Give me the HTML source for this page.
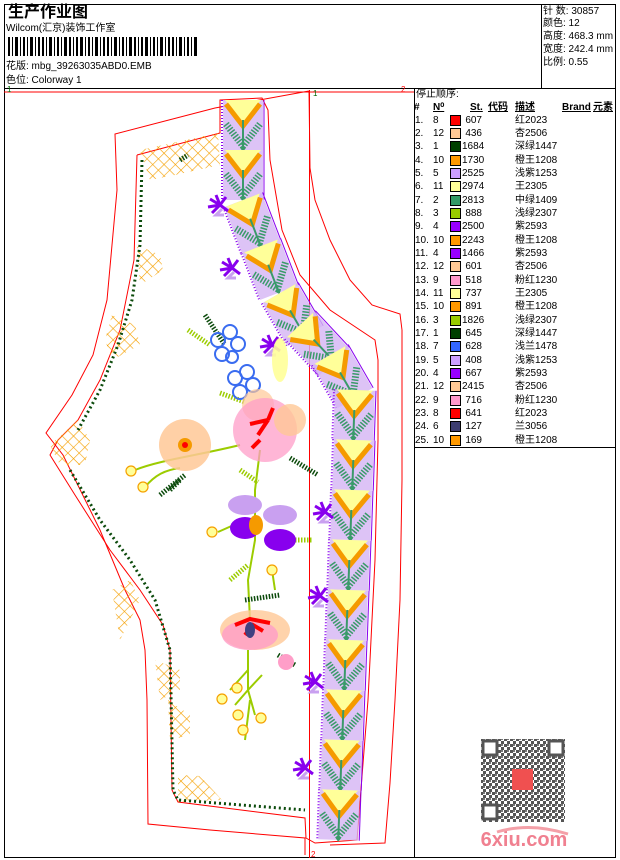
<!DOCTYPE html>
<html><head><meta charset="utf-8">
<style>
html,body{margin:0;padding:0;background:#fff;}
body{width:620px;height:860px;position:relative;overflow:hidden;font-family:"Liberation Sans","Noto Sans CJK SC",sans-serif;color:#000;}
.t{position:absolute;white-space:nowrap;font-size:10px;line-height:12px;}
</style></head><body>
<svg width="620" height="860" style="position:absolute;left:0;top:0" xmlns="http://www.w3.org/2000/svg">
<defs>
<pattern id="lat" width="8" height="8" patternUnits="userSpaceOnUse" patternTransform="rotate(45)">
<path d="M0 0H8M0 0V8" stroke="#f5a000" stroke-width="1.2"/></pattern>
<pattern id="qr" width="6" height="6" patternUnits="userSpaceOnUse">
<rect width="3" height="3" fill="#555"/><rect x="3" y="3" width="3" height="3" fill="#555"/><rect x="3" y="0" width="2" height="2" fill="#777"/></pattern>
<g id="u">
<rect x="-20" y="0" width="40" height="50" fill="#d4b4f4" opacity="0.8"/>
<polygon points="-18,0 18,0 0,22" fill="#ffff99"/>
<polyline points="-17,4 0,26 17,4" fill="none" stroke="#f59a00" stroke-width="5"/>
<polyline points="-17,24 0,46 17,24" fill="none" stroke="#3a9a6a" stroke-width="7" stroke-dasharray="1.5 1.5"/>
<line x1="0" y1="20" x2="0" y2="48" stroke="#3a9a6a" stroke-width="2"/>
<line x1="-21" y1="0" x2="-21" y2="50" stroke="#8800ee" stroke-width="2" stroke-dasharray="1 2"/>
<line x1="21" y1="0" x2="21" y2="50" stroke="#8800ee" stroke-width="1"/>
</g>
<g id="br"><path d="M0 0 l-10 -6 M0 0 l-12 2 M0 0 l-8 8 M0 0 l-4 -10 M0 0 l6 -8 M0 0 l8 6" stroke="#8800ee" stroke-width="3"/><path d="M2 4 l-6 6 l8 0" stroke="#c9a0f0" stroke-width="3" fill="none"/></g>
<g id="yc"><circle r="5" fill="#ffff99" stroke="#f5a000" stroke-width="1.2"/></g>
</defs>
<!-- frame -->
<rect x="4.5" y="4.5" width="611" height="853" fill="none" stroke="#000"/>
<line x1="4" y1="88.5" x2="616" y2="88.5" stroke="#000"/>
<line x1="541.5" y1="4" x2="541.5" y2="88" stroke="#000"/>
<line x1="414.5" y1="88" x2="414.5" y2="858" stroke="#000"/>
<line x1="414" y1="447.5" x2="616" y2="447.5" stroke="#000"/>
<!-- barcode -->
<g fill="#000">
<rect x="8" y="37" width="2" height="19"/><rect x="12" y="37" width="1" height="19"/><rect x="15" y="37" width="3" height="19"/><rect x="20" y="37" width="1" height="19"/><rect x="23" y="37" width="2" height="19"/><rect x="27" y="37" width="1" height="19"/><rect x="30" y="37" width="3" height="19"/><rect x="35" y="37" width="1" height="19"/><rect x="38" y="37" width="2" height="19"/><rect x="42" y="37" width="2" height="19"/><rect x="46" y="37" width="1" height="19"/><rect x="49" y="37" width="3" height="19"/><rect x="54" y="37" width="1" height="19"/><rect x="57" y="37" width="2" height="19"/><rect x="61" y="37" width="1" height="19"/><rect x="64" y="37" width="3" height="19"/><rect x="69" y="37" width="2" height="19"/><rect x="73" y="37" width="1" height="19"/><rect x="76" y="37" width="2" height="19"/><rect x="80" y="37" width="3" height="19"/><rect x="85" y="37" width="1" height="19"/><rect x="88" y="37" width="2" height="19"/><rect x="92" y="37" width="1" height="19"/><rect x="95" y="37" width="3" height="19"/><rect x="100" y="37" width="1" height="19"/><rect x="103" y="37" width="2" height="19"/><rect x="107" y="37" width="2" height="19"/><rect x="111" y="37" width="1" height="19"/><rect x="114" y="37" width="3" height="19"/><rect x="119" y="37" width="1" height="19"/><rect x="122" y="37" width="2" height="19"/><rect x="126" y="37" width="1" height="19"/><rect x="129" y="37" width="3" height="19"/><rect x="134" y="37" width="2" height="19"/><rect x="138" y="37" width="1" height="19"/><rect x="141" y="37" width="2" height="19"/><rect x="145" y="37" width="3" height="19"/><rect x="150" y="37" width="1" height="19"/><rect x="153" y="37" width="2" height="19"/><rect x="157" y="37" width="1" height="19"/><rect x="160" y="37" width="3" height="19"/><rect x="165" y="37" width="1" height="19"/><rect x="168" y="37" width="2" height="19"/><rect x="172" y="37" width="2" height="19"/><rect x="176" y="37" width="1" height="19"/><rect x="179" y="37" width="3" height="19"/><rect x="184" y="37" width="1" height="19"/><rect x="187" y="37" width="2" height="19"/><rect x="191" y="37" width="1" height="19"/><rect x="194" y="37" width="3" height="19"/>
</g>
<!-- red guide lines -->
<line x1="4" y1="92" x2="414" y2="92" stroke="#f00"/>
<line x1="309.5" y1="90" x2="309.5" y2="858" stroke="#f00"/>
<text x="7" y="92" font-size="8" fill="#060">1</text>
<text x="313" y="96" font-size="8" fill="#060">1</text>
<text x="401" y="92" font-size="8" fill="#f00">2</text>
<text x="311" y="857" font-size="8" fill="#f00">2</text>
<!-- outer outlines -->
<polyline points="309,91 215,108 115,134 117,190 107,300 93,355 72,395 46,433 63,455 100,530 125,590 140,620 145,650 147,700 148,824 210,830 305,838 305,855" fill="none" stroke="#f00"/>
<polyline points="309,91 310,168 315,200 330,240 350,280 372,305 400,314 402,330 402,480 400,600 395,700 390,783 385,843 330,845" fill="none" stroke="#f00"/>
<polyline points="137,155 220,133 220,100 262,98 268,110 270,160 282,230 300,275 330,310 375,340 378,360 378,440 375,560 368,700 357,840 315,843 306,838 305,818 178,802 172,790 170,650 163,625 140,590 110,550 75,495 50,455 58,440 78,420 100,380 120,330 134,260 137,155" fill="none" stroke="#f00"/>
<!-- lattice patches -->
<g fill="url(#lat)">
<polygon points="140,150 218,133 220,165 175,175 150,180"/>
<polygon points="137,245 160,255 163,270 140,285"/>
<polygon points="112,315 135,325 140,345 112,360 105,340"/>
<polygon points="50,445 78,420 90,440 85,465 60,465"/>
<polygon points="112,590 130,580 140,600 120,640"/>
<polygon points="155,660 180,670 180,690 160,700"/>
<polygon points="168,700 190,715 190,735 170,740"/>
<polygon points="178,775 200,776 222,800 178,802"/>
</g>
<!-- dark green edge stitch -->
<polyline points="142,160 140,245 132,300 118,345 100,390 78,430" fill="none" stroke="#0b4a0b" stroke-width="3" stroke-dasharray="2 3"/>
<polyline points="70,470 100,520 130,560 155,600 170,650 173,790 178,800 305,810" fill="none" stroke="#0b4a0b" stroke-width="3" stroke-dasharray="2 3"/>
<!-- band -->
<g>
<use href="#u" transform="translate(243,100)"/>
<use href="#u" transform="translate(243,150)"/>
<use href="#u" transform="translate(243,200) rotate(-21)"/>
<use href="#u" transform="translate(261,246) rotate(-21)"/>
<use href="#u" transform="translate(280,293) rotate(-30)"/>
<use href="#u" transform="translate(300,325) rotate(-43)"/>
<use href="#u" transform="translate(330,355) rotate(-30)"/>
<use href="#u" transform="translate(355,390) rotate(2)"/>
<use href="#u" transform="translate(354,440) rotate(2)"/>
<use href="#u" transform="translate(352,490) rotate(2)"/>
<use href="#u" transform="translate(350,540) rotate(2)"/>
<use href="#u" transform="translate(348,590) rotate(2)"/>
<use href="#u" transform="translate(346,640) rotate(2)"/>
<use href="#u" transform="translate(344,690) rotate(2)"/>
<use href="#u" transform="translate(342,740) rotate(2)"/>
<use href="#u" transform="translate(340,790) rotate(2)"/>
</g>
<!-- purple brushes -->
<use href="#br" transform="translate(220,205)"/>
<use href="#br" transform="translate(232,268)"/>
<use href="#br" transform="translate(272,345)"/>
<use href="#br" transform="translate(325,512)"/>
<use href="#br" transform="translate(320,596)"/>
<use href="#br" transform="translate(315,682)"/>
<use href="#br" transform="translate(305,768)"/>
<!-- stems -->
<g fill="none" stroke="#9ccc00" stroke-width="2">
<path d="M135,470 C160,460 200,455 240,445"/><path d="M145,487 C155,475 165,470 180,468"/>
<path d="M260,450 L255,490 L255,540 L248,580 L250,620"/>
<path d="M218,532 L245,520"/><path d="M272,570 L275,590"/>
<path d="M248,650 L248,690 L235,705 M248,690 L255,715 M248,690 L262,675 M248,670 L230,690 M250,700 L245,740"/>
</g>
<!-- leaves -->
<g stroke-width="5" stroke-dasharray="1.5 1.5" fill="none">
<path d="M205,315 L225,345" stroke="#0b4a0b"/><path d="M188,330 L210,345" stroke="#9ccc00"/>
<path d="M220,393 L245,402" stroke="#9ccc00"/>
<path d="M160,495 L185,475" stroke="#0b4a0b"/><path d="M170,490 L180,480" stroke="#0b4a0b"/>
<path d="M290,458 L318,475" stroke="#0b4a0b"/>
<path d="M240,470 L258,482" stroke="#9ccc00"/>
<path d="M292,540 L312,540" stroke="#9ccc00"/>
<path d="M230,580 L248,565" stroke="#9ccc00"/>
<path d="M245,600 L280,595" stroke="#0b4a0b"/>
<path d="M278,655 L295,665" stroke="#0b4a0b"/>
<path d="M180,160 L188,155" stroke="#0b4a0b"/>
</g>
<!-- blue clusters -->
<g fill="none" stroke="#3a6cf0" stroke-width="2">
<circle cx="218" cy="340" r="7"/><circle cx="230" cy="332" r="7"/><circle cx="238" cy="344" r="7"/><circle cx="222" cy="354" r="7"/><circle cx="232" cy="357" r="6"/>
<circle cx="235" cy="378" r="7"/><circle cx="247" cy="372" r="7"/><circle cx="253" cy="385" r="7"/><circle cx="240" cy="392" r="7"/>
</g>
<!-- flowers -->
<g>
<circle cx="185" cy="445" r="26" fill="#ffc896" opacity="0.85"/><circle cx="185" cy="445" r="7" fill="#f59a00"/><circle cx="185" cy="445" r="3" fill="#f00"/>
<circle cx="258" cy="405" r="16" fill="#ffc896" opacity="0.7"/>
<circle cx="265" cy="430" r="32" fill="#ff9ec8" opacity="0.75"/>
<circle cx="290" cy="420" r="16" fill="#ffc896" opacity="0.8"/>
<ellipse cx="280" cy="360" rx="8" ry="22" fill="#ffff99" opacity="0.9"/>
<path d="M268,420 l-10,15 M268,420 l5,-12 M268,420 l-18,4 M260,440 l-8,8" stroke="#f00" stroke-width="4"/>
<ellipse cx="245" cy="505" rx="17" ry="10" fill="#c9a0f0"/><ellipse cx="280" cy="515" rx="17" ry="10" fill="#c9a0f0"/>
<ellipse cx="245" cy="528" rx="15" ry="11" fill="#8800ee"/><ellipse cx="280" cy="540" rx="16" ry="11" fill="#8800ee"/>
<ellipse cx="256" cy="525" rx="7" ry="10" fill="#f59a00"/>
<ellipse cx="255" cy="630" rx="35" ry="20" fill="#ffc896" opacity="0.8"/>
<ellipse cx="250" cy="635" rx="28" ry="15" fill="#ff9ec8" opacity="0.8"/>
<path d="M235,625 l15,-6 l20,4 M245,635 l8,-10 l10,6" stroke="#f00" stroke-width="4" fill="none"/>
<ellipse cx="250" cy="630" rx="5" ry="8" fill="#404080"/>
<circle cx="286" cy="662" r="8" fill="#ff9ec8"/>
</g>
<!-- yellow berries -->
<use href="#yc" transform="translate(131,471)"/><use href="#yc" transform="translate(143,487)"/>
<use href="#yc" transform="translate(212,532)"/><use href="#yc" transform="translate(272,570)"/>
<use href="#yc" transform="translate(222,699)"/><use href="#yc" transform="translate(237,688)"/>
<use href="#yc" transform="translate(238,715)"/><use href="#yc" transform="translate(261,718)"/>
<use href="#yc" transform="translate(243,730)"/>
<!-- QR -->
<rect x="481" y="739" width="84" height="83" fill="url(#qr)"/>
<g fill="#fff" stroke="#555" stroke-width="3">
<rect x="483" y="741" width="14" height="14"/><rect x="549" y="741" width="14" height="14"/><rect x="483" y="805" width="14" height="14"/>
</g>
<rect x="512" y="769" width="21" height="21" fill="#f05050"/>
<text x="524" y="846" font-size="20" font-weight="bold" fill="#f08090" text-anchor="middle" font-family="Liberation Sans,sans-serif">6xiu.com</text>
<path d="M497,832 Q530,822 568,834" stroke="#f4a0a8" stroke-width="3" fill="none"/>
</svg>
<div class="t" style="left:8px;top:4px;font-size:16px;line-height:18px;font-weight:bold;">生产作业图</div>
<div class="t" style="left:6px;top:23px;">Wilcom(汇京)装饰工作室</div>
<div class="t" style="left:6px;top:61px;">花版: mbg_39263035ABD0.EMB</div>
<div class="t" style="left:6px;top:75px;">色位: Colorway 1</div>
<div class="t" style="left:543px;top:6px;">针 数: 30857</div>
<div class="t" style="left:543px;top:18px;">颜色: 12</div>
<div class="t" style="left:543px;top:31px;">高度: 468.3 mm</div>
<div class="t" style="left:543px;top:44px;">宽度: 242.4 mm</div>
<div class="t" style="left:543px;top:57px;">比例: 0.55</div>
<div class="t" style="left:416px;top:89px;">停止顺序:</div>
<div class="t" style="left:414px;top:102px;font-weight:bold;">#</div>
<div class="t" style="left:433px;top:102px;font-weight:bold;text-decoration:underline;">N⁰</div>
<div class="t" style="left:470px;top:102px;font-weight:bold;text-decoration:underline;">St.</div>
<div class="t" style="left:488px;top:102px;font-weight:bold;text-decoration:underline;">代码</div>
<div class="t" style="left:515px;top:102px;font-weight:bold;text-decoration:underline;">描述</div>
<div class="t" style="left:562px;top:102px;font-weight:bold;text-decoration:underline;">Brand</div>
<div class="t" style="left:593px;top:102px;font-weight:bold;text-decoration:underline;">元素</div>
<div id="rows"></div>
<div style="position:absolute;left:0;top:0;">
<!-- rows -->
<div class="t" style="left:415px;top:115px;">1.</div><div class="t" style="left:433px;top:115px;">8</div><div style="position:absolute;left:450px;top:115px;width:9px;height:9px;border:1px solid #000;background:#f00"></div><div class="t" style="left:462px;top:115px;width:20px;text-align:right;">607</div><div class="t" style="left:515px;top:115px;">红2023</div>
<div class="t" style="left:415px;top:128px;">2.</div><div class="t" style="left:433px;top:128px;">12</div><div style="position:absolute;left:450px;top:128px;width:9px;height:9px;border:1px solid #000;background:#ffc896"></div><div class="t" style="left:462px;top:128px;width:20px;text-align:right;">436</div><div class="t" style="left:515px;top:128px;">杏2506</div>
<div class="t" style="left:415px;top:141px;">3.</div><div class="t" style="left:433px;top:141px;">1</div><div style="position:absolute;left:450px;top:141px;width:9px;height:9px;border:1px solid #000;background:#004000"></div><div class="t" style="left:462px;top:141px;width:20px;text-align:right;">1684</div><div class="t" style="left:515px;top:141px;">深绿1447</div>
<div class="t" style="left:415px;top:155px;">4.</div><div class="t" style="left:433px;top:155px;">10</div><div style="position:absolute;left:450px;top:155px;width:9px;height:9px;border:1px solid #000;background:#ff9900"></div><div class="t" style="left:462px;top:155px;width:20px;text-align:right;">1730</div><div class="t" style="left:515px;top:155px;">橙王1208</div>
<div class="t" style="left:415px;top:168px;">5.</div><div class="t" style="left:433px;top:168px;">5</div><div style="position:absolute;left:450px;top:168px;width:9px;height:9px;border:1px solid #000;background:#cc9fff"></div><div class="t" style="left:462px;top:168px;width:20px;text-align:right;">2525</div><div class="t" style="left:515px;top:168px;">浅紫1253</div>
<div class="t" style="left:415px;top:181px;">6.</div><div class="t" style="left:433px;top:181px;">11</div><div style="position:absolute;left:450px;top:181px;width:9px;height:9px;border:1px solid #000;background:#ffff99"></div><div class="t" style="left:462px;top:181px;width:20px;text-align:right;">2974</div><div class="t" style="left:515px;top:181px;">王2305</div>
<div class="t" style="left:415px;top:195px;">7.</div><div class="t" style="left:433px;top:195px;">2</div><div style="position:absolute;left:450px;top:195px;width:9px;height:9px;border:1px solid #000;background:#339966"></div><div class="t" style="left:462px;top:195px;width:20px;text-align:right;">2813</div><div class="t" style="left:515px;top:195px;">中绿1409</div>
<div class="t" style="left:415px;top:208px;">8.</div><div class="t" style="left:433px;top:208px;">3</div><div style="position:absolute;left:450px;top:208px;width:9px;height:9px;border:1px solid #000;background:#99cc00"></div><div class="t" style="left:462px;top:208px;width:20px;text-align:right;">888</div><div class="t" style="left:515px;top:208px;">浅绿2307</div>
<div class="t" style="left:415px;top:221px;">9.</div><div class="t" style="left:433px;top:221px;">4</div><div style="position:absolute;left:450px;top:221px;width:9px;height:9px;border:1px solid #000;background:#9900ff"></div><div class="t" style="left:462px;top:221px;width:20px;text-align:right;">2500</div><div class="t" style="left:515px;top:221px;">紫2593</div>
<div class="t" style="left:415px;top:235px;">10.</div><div class="t" style="left:433px;top:235px;">10</div><div style="position:absolute;left:450px;top:235px;width:9px;height:9px;border:1px solid #000;background:#ff9900"></div><div class="t" style="left:462px;top:235px;width:20px;text-align:right;">2243</div><div class="t" style="left:515px;top:235px;">橙王1208</div>
<div class="t" style="left:415px;top:248px;">11.</div><div class="t" style="left:433px;top:248px;">4</div><div style="position:absolute;left:450px;top:248px;width:9px;height:9px;border:1px solid #000;background:#9900ff"></div><div class="t" style="left:462px;top:248px;width:20px;text-align:right;">1466</div><div class="t" style="left:515px;top:248px;">紫2593</div>
<div class="t" style="left:415px;top:261px;">12.</div><div class="t" style="left:433px;top:261px;">12</div><div style="position:absolute;left:450px;top:261px;width:9px;height:9px;border:1px solid #000;background:#ffc896"></div><div class="t" style="left:462px;top:261px;width:20px;text-align:right;">601</div><div class="t" style="left:515px;top:261px;">杏2506</div>
<div class="t" style="left:415px;top:275px;">13.</div><div class="t" style="left:433px;top:275px;">9</div><div style="position:absolute;left:450px;top:275px;width:9px;height:9px;border:1px solid #000;background:#ff99cc"></div><div class="t" style="left:462px;top:275px;width:20px;text-align:right;">518</div><div class="t" style="left:515px;top:275px;">粉红1230</div>
<div class="t" style="left:415px;top:288px;">14.</div><div class="t" style="left:433px;top:288px;">11</div><div style="position:absolute;left:450px;top:288px;width:9px;height:9px;border:1px solid #000;background:#ffff99"></div><div class="t" style="left:462px;top:288px;width:20px;text-align:right;">737</div><div class="t" style="left:515px;top:288px;">王2305</div>
<div class="t" style="left:415px;top:301px;">15.</div><div class="t" style="left:433px;top:301px;">10</div><div style="position:absolute;left:450px;top:301px;width:9px;height:9px;border:1px solid #000;background:#ff9900"></div><div class="t" style="left:462px;top:301px;width:20px;text-align:right;">891</div><div class="t" style="left:515px;top:301px;">橙王1208</div>
<div class="t" style="left:415px;top:315px;">16.</div><div class="t" style="left:433px;top:315px;">3</div><div style="position:absolute;left:450px;top:315px;width:9px;height:9px;border:1px solid #000;background:#99cc00"></div><div class="t" style="left:462px;top:315px;width:20px;text-align:right;">1826</div><div class="t" style="left:515px;top:315px;">浅绿2307</div>
<div class="t" style="left:415px;top:328px;">17.</div><div class="t" style="left:433px;top:328px;">1</div><div style="position:absolute;left:450px;top:328px;width:9px;height:9px;border:1px solid #000;background:#004000"></div><div class="t" style="left:462px;top:328px;width:20px;text-align:right;">645</div><div class="t" style="left:515px;top:328px;">深绿1447</div>
<div class="t" style="left:415px;top:341px;">18.</div><div class="t" style="left:433px;top:341px;">7</div><div style="position:absolute;left:450px;top:341px;width:9px;height:9px;border:1px solid #000;background:#3366ff"></div><div class="t" style="left:462px;top:341px;width:20px;text-align:right;">628</div><div class="t" style="left:515px;top:341px;">浅兰1478</div>
<div class="t" style="left:415px;top:355px;">19.</div><div class="t" style="left:433px;top:355px;">5</div><div style="position:absolute;left:450px;top:355px;width:9px;height:9px;border:1px solid #000;background:#cc9fff"></div><div class="t" style="left:462px;top:355px;width:20px;text-align:right;">408</div><div class="t" style="left:515px;top:355px;">浅紫1253</div>
<div class="t" style="left:415px;top:368px;">20.</div><div class="t" style="left:433px;top:368px;">4</div><div style="position:absolute;left:450px;top:368px;width:9px;height:9px;border:1px solid #000;background:#9900ff"></div><div class="t" style="left:462px;top:368px;width:20px;text-align:right;">667</div><div class="t" style="left:515px;top:368px;">紫2593</div>
<div class="t" style="left:415px;top:381px;">21.</div><div class="t" style="left:433px;top:381px;">12</div><div style="position:absolute;left:450px;top:381px;width:9px;height:9px;border:1px solid #000;background:#ffc896"></div><div class="t" style="left:462px;top:381px;width:20px;text-align:right;">2415</div><div class="t" style="left:515px;top:381px;">杏2506</div>
<div class="t" style="left:415px;top:395px;">22.</div><div class="t" style="left:433px;top:395px;">9</div><div style="position:absolute;left:450px;top:395px;width:9px;height:9px;border:1px solid #000;background:#ff99cc"></div><div class="t" style="left:462px;top:395px;width:20px;text-align:right;">716</div><div class="t" style="left:515px;top:395px;">粉红1230</div>
<div class="t" style="left:415px;top:408px;">23.</div><div class="t" style="left:433px;top:408px;">8</div><div style="position:absolute;left:450px;top:408px;width:9px;height:9px;border:1px solid #000;background:#f00"></div><div class="t" style="left:462px;top:408px;width:20px;text-align:right;">641</div><div class="t" style="left:515px;top:408px;">红2023</div>
<div class="t" style="left:415px;top:421px;">24.</div><div class="t" style="left:433px;top:421px;">6</div><div style="position:absolute;left:450px;top:421px;width:9px;height:9px;border:1px solid #000;background:#3d3d70"></div><div class="t" style="left:462px;top:421px;width:20px;text-align:right;">127</div><div class="t" style="left:515px;top:421px;">兰3056</div>
<div class="t" style="left:415px;top:435px;">25.</div><div class="t" style="left:433px;top:435px;">10</div><div style="position:absolute;left:450px;top:435px;width:9px;height:9px;border:1px solid #000;background:#ff9900"></div><div class="t" style="left:462px;top:435px;width:20px;text-align:right;">169</div><div class="t" style="left:515px;top:435px;">橙王1208</div>
</div>
</body></html>
